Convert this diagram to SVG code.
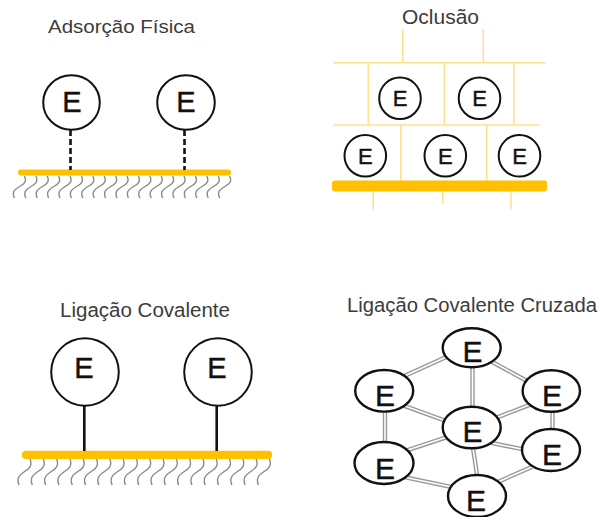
<svg xmlns="http://www.w3.org/2000/svg" width="600" height="517" viewBox="0 0 600 517">
<defs>
<style>
.title{font-family:"Liberation Sans",Arial,sans-serif;fill:#3c3c3c;}
.e{font-family:"Liberation Sans",Arial,sans-serif;fill:#111;text-anchor:middle;stroke:#111;stroke-width:0.4;}
.node{fill:#fff;stroke:#111;stroke-width:2;}
.node4{fill:#fff;stroke:#111;stroke-width:2.4;}
.bar{fill:#FFC000;}
.hatch{fill:none;stroke:#8a8a8a;stroke-width:1.4;}
.light{stroke:#FFE08C;stroke-width:1.5;fill:none;}
.dash{stroke:#111;stroke-width:2.6;stroke-dasharray:6 3;}
.stem{stroke:#111;stroke-width:2.6;}
.dblo{stroke:#999;stroke-width:4.4;}
.dbli{stroke:#fff;stroke-width:1.6;}
</style>
<path id="w1" class="hatch" d="M0,176 C6,188 -16,185 -10,198"/>
<path id="w3" class="hatch" d="M0,459 C6,473 -17,470 -11,485"/>
</defs>

<!-- Panel 1: Adsorção Física -->
<text class="title" x="48" y="33" font-size="17.5" textLength="147" lengthAdjust="spacingAndGlyphs">Adsorção Física</text>
<g id="surface1">
<use href="#w1" x="24.4"/><use href="#w1" x="35.8"/><use href="#w1" x="47.2"/><use href="#w1" x="58.6"/><use href="#w1" x="70"/><use href="#w1" x="81.4"/><use href="#w1" x="92.8"/><use href="#w1" x="104.2"/><use href="#w1" x="115.6"/><use href="#w1" x="127"/><use href="#w1" x="138.4"/><use href="#w1" x="149.8"/><use href="#w1" x="161.2"/><use href="#w1" x="172.6"/><use href="#w1" x="184"/><use href="#w1" x="195.4"/><use href="#w1" x="206.8"/><use href="#w1" x="218.2"/><use href="#w1" x="229.6"/>
<rect class="bar" x="18" y="169.5" width="213" height="6" rx="3"/>
</g>
<g id="connectors1">
<line class="dash" x1="70.5" y1="130" x2="70.5" y2="170"/>
<line class="dash" x1="184.5" y1="130" x2="184.5" y2="170"/>
</g>
<g id="p1e1"><ellipse class="node" cx="71.5" cy="102.5" rx="28.3" ry="27.3"/><text class="e" x="72" y="112" font-size="29">E</text></g>
<g id="p1e2"><ellipse class="node" cx="186" cy="102.5" rx="28.8" ry="27.3"/><text class="e" x="186" y="112" font-size="29">E</text></g>

<!-- Panel 2: Oclusão -->
<text class="title" x="402" y="24" font-size="19.5" textLength="77" lengthAdjust="spacingAndGlyphs">Oclusão</text>
<g id="matrix2">
<line class="light" x1="402.7" y1="29" x2="402.7" y2="62.7"/>
<line class="light" x1="483.3" y1="29" x2="483.3" y2="62.7"/>
<line class="light" x1="333.3" y1="62.7" x2="545.7" y2="62.7"/>
<line class="light" x1="368.3" y1="62.7" x2="368.3" y2="125"/>
<line class="light" x1="444.3" y1="62.7" x2="444.3" y2="125"/>
<line class="light" x1="514" y1="62.7" x2="514" y2="125"/>
<line class="light" x1="333.3" y1="125" x2="539.5" y2="125"/>
<line class="light" x1="400.8" y1="125" x2="400.8" y2="181"/>
<line class="light" x1="486.7" y1="125" x2="486.7" y2="181"/>
<line class="light" x1="373.3" y1="191" x2="373.3" y2="209"/>
<line class="light" x1="442.7" y1="191" x2="442.7" y2="204"/>
<line class="light" x1="511" y1="191" x2="511" y2="209"/>
<rect class="bar" x="332" y="180.5" width="215" height="11" rx="3"/>
</g>
<g id="p2e1"><circle class="node" cx="400" cy="98.3" r="20.8"/><text class="e" x="400" y="106" font-size="22">E</text></g>
<g id="p2e2"><circle class="node" cx="479.5" cy="98.3" r="20.8"/><text class="e" x="479.5" y="106" font-size="22">E</text></g>
<g id="p2e3"><circle class="node" cx="365.3" cy="155.8" r="20.8"/><text class="e" x="365.3" y="163.5" font-size="22">E</text></g>
<g id="p2e4"><circle class="node" cx="445.3" cy="155.8" r="20.8"/><text class="e" x="445.3" y="163.5" font-size="22">E</text></g>
<g id="p2e5"><circle class="node" cx="519.5" cy="155.8" r="20.8"/><text class="e" x="519.5" y="163.5" font-size="22">E</text></g>

<!-- Panel 3: Ligação Covalente -->
<text class="title" x="60" y="316.5" font-size="19.5" textLength="170" lengthAdjust="spacingAndGlyphs">Ligação Covalente</text>
<g id="surface3">
<use href="#w3" x="30"/><use href="#w3" x="43.3"/><use href="#w3" x="56.6"/><use href="#w3" x="69.9"/><use href="#w3" x="83.2"/><use href="#w3" x="96.5"/><use href="#w3" x="109.8"/><use href="#w3" x="123.1"/><use href="#w3" x="136.4"/><use href="#w3" x="149.7"/><use href="#w3" x="163"/><use href="#w3" x="176.3"/><use href="#w3" x="189.6"/><use href="#w3" x="202.9"/><use href="#w3" x="216.2"/><use href="#w3" x="229.5"/><use href="#w3" x="242.8"/><use href="#w3" x="256.1"/><use href="#w3" x="269.4"/>
<rect class="bar" x="22" y="450.7" width="250" height="8.3" rx="3.5"/>
</g>
<g id="connectors3">
<line class="stem" x1="84.3" y1="405" x2="84.3" y2="451"/>
<line class="stem" x1="216.7" y1="405" x2="216.7" y2="451"/>
</g>
<g id="p3e1"><circle class="node" cx="85" cy="372" r="33.8"/><text class="e" x="84" y="377.5" font-size="29">E</text></g>
<g id="p3e2"><circle class="node" cx="218" cy="372" r="33.8"/><text class="e" x="217" y="377.5" font-size="29">E</text></g>

<!-- Panel 4: Ligação Covalente Cruzada -->
<text class="title" x="347" y="311.5" font-size="19.5" textLength="250" lengthAdjust="spacingAndGlyphs">Ligação Covalente Cruzada</text>
<g id="connectors4">
<g class="dblo">
<line x1="450.6" y1="355" x2="399.4" y2="378.3"/>
<line x1="400.8" y1="404.6" x2="450.8" y2="422.7"/>
<line x1="385" y1="405" x2="385" y2="448"/>
<line x1="472.5" y1="360" x2="472.5" y2="415"/>
<line x1="480" y1="355.2" x2="532" y2="383.8"/>
<line x1="487.6" y1="421.2" x2="534.1" y2="403.1"/>
<line x1="552.5" y1="405" x2="552.5" y2="437"/>
<line x1="450.9" y1="435.8" x2="402.4" y2="451.8"/>
<line x1="488.9" y1="442.4" x2="530.5" y2="450.9"/>
<line x1="472.1" y1="442" x2="478.5" y2="484.6"/>
<line x1="402.2" y1="476.7" x2="457.8" y2="488.3"/>
<line x1="532.3" y1="466.8" x2="491" y2="484.9"/>
</g>
<g class="dbli">
<line x1="450.6" y1="355" x2="399.4" y2="378.3"/>
<line x1="400.8" y1="404.6" x2="450.8" y2="422.7"/>
<line x1="385" y1="405" x2="385" y2="448"/>
<line x1="472.5" y1="360" x2="472.5" y2="415"/>
<line x1="480" y1="355.2" x2="532" y2="383.8"/>
<line x1="487.6" y1="421.2" x2="534.1" y2="403.1"/>
<line x1="552.5" y1="405" x2="552.5" y2="437"/>
<line x1="450.9" y1="435.8" x2="402.4" y2="451.8"/>
<line x1="488.9" y1="442.4" x2="530.5" y2="450.9"/>
<line x1="472.1" y1="442" x2="478.5" y2="484.6"/>
<line x1="402.2" y1="476.7" x2="457.8" y2="488.3"/>
<line x1="532.3" y1="466.8" x2="491" y2="484.9"/>
</g>
</g>
<g id="p4top"><ellipse class="node4" cx="471.7" cy="347.8" rx="29" ry="19.5"/><text class="e" x="472.5" y="362" font-size="30">E</text></g>
<g id="p4left"><ellipse class="node4" cx="384.2" cy="390.8" rx="29" ry="20.8"/><text class="e" x="385" y="405.5" font-size="30">E</text></g>
<g id="p4right"><ellipse class="node4" cx="551.3" cy="391" rx="28.7" ry="20.8"/><text class="e" x="552" y="405.5" font-size="30">E</text></g>
<g id="p4center"><ellipse class="node4" cx="471.7" cy="427.5" rx="29" ry="20.8"/><text class="e" x="472.5" y="442" font-size="30">E</text></g>
<g id="p4lowright"><ellipse class="node4" cx="551" cy="450" rx="29" ry="21"/><text class="e" x="552" y="464.5" font-size="30">E</text></g>
<g id="p4lowleft"><ellipse class="node4" cx="384" cy="463" rx="29.5" ry="21"/><text class="e" x="385" y="478.5" font-size="30">E</text></g>
<g id="p4bottom"><ellipse class="node4" cx="477" cy="496" rx="29" ry="21"/><text class="e" x="476" y="510.5" font-size="30">E</text></g>
</svg>
